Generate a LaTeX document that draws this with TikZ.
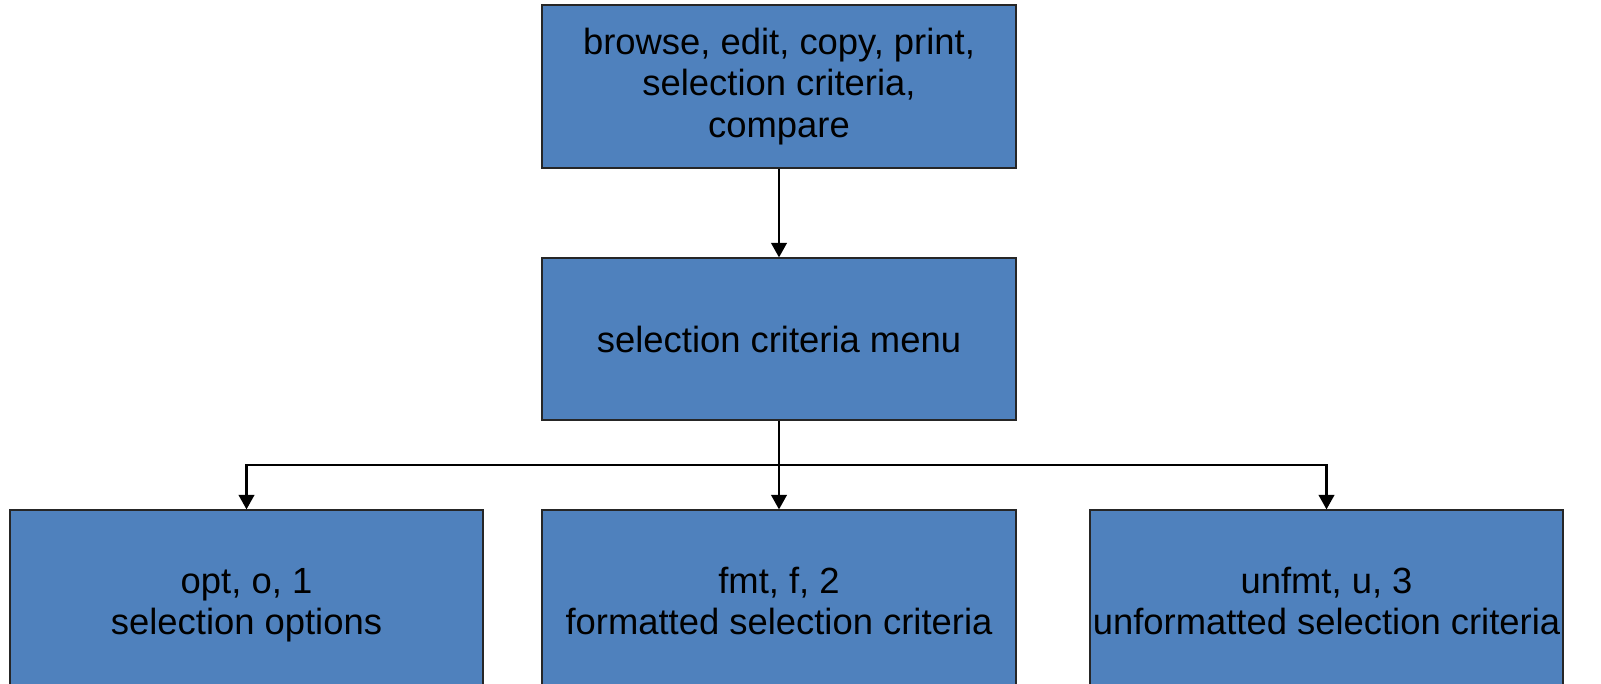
\documentclass[tikz,border=0pt]{standalone}
\usepackage{fontspec}
\setmainfont{Liberation Sans}
\usetikzlibrary{arrows.meta}
\definecolor{boxblue}{HTML}{4F81BD}
\begin{document}
\begin{tikzpicture}[x=1pt,y=-1pt,
  blk/.style={draw=black!85, line width=1.2pt, fill=boxblue, text=black,
    minimum width=474pt, inner sep=0pt, align=center,
    font=\fontsize{36.4}{41.5}\selectfont},
  conn/.style={line width=2.4pt, draw=black},
  arr/.style={conn, -{Triangle[width=15.5pt,length=14.5pt]}}]
\fill[white] (0,0) rectangle (1601,683);
\begin{scope}
\clip (0,0) rectangle (1601,683);
\node[blk, minimum height=163pt] (top) at (779,86.5) {browse, edit, copy, print,\\selection criteria,\\compare};
\node[blk, minimum height=162pt] (mid) at (779,339) {selection criteria menu};
\node[blk, minimum width=473pt, minimum height=191pt] (bl) at (246.5,605.5) {\strut opt, o, 1\\selection options\strut};
\node[blk, minimum height=191pt] (bm) at (779,605.5) {\strut fmt, f, 2\\formatted selection criteria\strut};
\node[blk, minimum width=473pt, minimum height=191pt] (br) at (1326.5,605.5) {\strut unfmt, u, 3\\unformatted selection criteria\strut};
\coordinate (j) at (779,465);
\draw[arr] (top) -- (mid);
\draw[conn] (mid.south) -- (j);
\draw[arr] (j) -| (bl.north);
\draw[arr] (j) -- (bm.north);
\draw[arr] (j) -| (br.north);
\end{scope}
\pgfresetboundingbox
\useasboundingbox (0,0) rectangle (1601,683);
\end{tikzpicture}
\end{document}
